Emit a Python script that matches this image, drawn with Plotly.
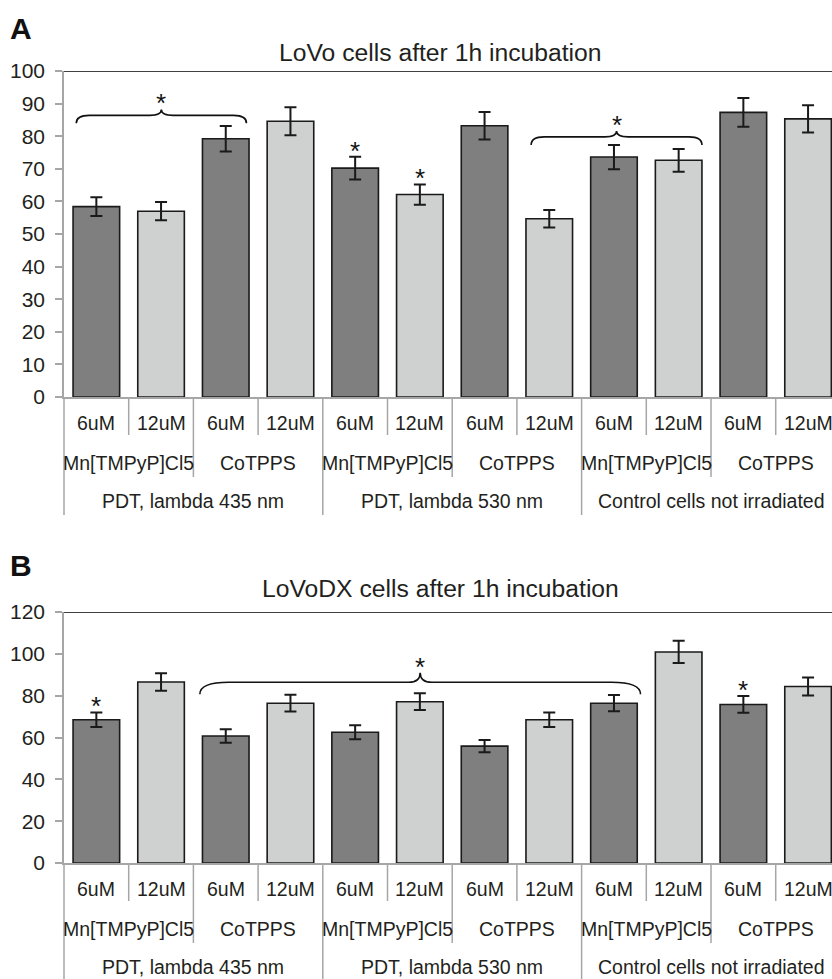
import plotly.graph_objects as go

W, H = 832, 979
FONT = "Liberation Sans, Arial, sans-serif"

# ---------------- data ----------------
positions = list(range(12))
dose_labels = ["6uM", "12uM"] * 6
compound_labels = ["Mn[TMPyP]Cl5", "CoTPPS"] * 3
treatment_labels = ["PDT, lambda 435 nm", "PDT, lambda 530 nm", "Control cells not irradiated"]
bar_colors = ["#7f7f7f", "#cfd1d0"] * 6

lovo_title = "LoVo cells after 1h incubation"
lovo_values = [58.4, 57.0, 79.2, 84.6, 70.2, 62.1, 83.2, 54.7, 73.6, 72.6, 87.3, 85.3]
lovo_errors = [2.9, 2.8, 3.9, 4.3, 3.5, 3.1, 4.2, 2.7, 3.7, 3.5, 4.4, 4.2]
lovo_star_bars = [4, 5]
# brace: x start, x end, end y, flat y, peak y
lovo_braces = [(-0.31, 2.32, 84.0, 86.4, 88.2), (6.72, 9.36, 77.3, 79.8, 81.6)]

lovodx_title = "LoVoDX cells after 1h incubation"
lovodx_values = [68.5, 86.5, 60.7, 76.4, 62.5, 77.1, 55.9, 68.5, 76.4, 100.9, 75.8, 84.4]
lovodx_errors = [3.5, 4.2, 3.2, 4.0, 3.3, 4.0, 2.9, 3.5, 3.9, 5.3, 4.0, 4.3]
lovodx_star_bars = [0, 10]
lovodx_braces = [(1.60, 8.41, 80.7, 86.4, 91.0)]

# ---------------- layout helpers ----------------
def py(p):
    return 1 - p / H

X0 = 64 / W
panels = [
    dict(xa="x", ya="y", top=71, bottom=397, ymax=100, dtick=10, title=lovo_title, title_y=53,
         label="A", label_y=28, values=lovo_values, errors=lovo_errors,
         stars=lovo_star_bars, braces=lovo_braces, curl=0.2),
    dict(xa="x2", ya="y2", top=612, bottom=863, ymax=120, dtick=20, title=lovodx_title, title_y=588,
         label="B", label_y=565, values=lovodx_values, errors=lovodx_errors,
         stars=lovodx_star_bars, braces=lovodx_braces, curl=0.45),
]

fig = go.Figure()
shapes = []
annotations = []
axis_grey = "#a6a6a6"
text_col = "#231f20"

for p in panels:
    fig.add_trace(go.Bar(
        x=positions, y=p["values"], xaxis=p["xa"], yaxis=p["ya"],
        width=0.72,
        marker=dict(color=bar_colors, line=dict(color="#1a1a1a", width=1.6)),
        error_y=dict(type="data", array=p["errors"], visible=True,
                     color="#1a1a1a", thickness=2, width=6),
        showlegend=False, hoverinfo="skip",
    ))
    xr = p["xa"]
    yr = p["ya"]
    # top border
    shapes.append(dict(type="line", xref="paper", yref=yr, x0=X0, x1=1,
                       y0=p["ymax"], y1=p["ymax"], line=dict(color="#404040", width=2)))
    # left line continuation below axis
    yb = p["bottom"]
    shapes.append(dict(type="line", xref="paper", yref="paper", x0=X0, x1=X0,
                       y0=py(yb), y1=py(yb + 118), line=dict(color=axis_grey, width=1.5)))
    # category separators
    for k in range(12):
        b = k + 0.5
        if (k + 1) % 4 == 0:
            length = 118
        elif (k + 1) % 2 == 0:
            length = 80
        else:
            length = 38
        shapes.append(dict(type="line", xref=xr, yref="paper", x0=b, x1=b,
                           y0=py(yb), y1=py(yb + length), line=dict(color=axis_grey, width=1.5)))
    # category labels
    for i, t in enumerate(dose_labels):
        annotations.append(dict(x=positions[i], y=py(yb + 26), xref=xr, yref="paper", text=t,
                                showarrow=False, yanchor="middle",
                                font=dict(family=FONT, size=19.5, color=text_col)))
    for j, t in enumerate(compound_labels):
        annotations.append(dict(x=2 * j + 0.5, y=py(yb + 66), xref=xr, yref="paper", text=t,
                                showarrow=False, yanchor="middle",
                                font=dict(family=FONT, size=19.5, color=text_col)))
    for j, t in enumerate(treatment_labels):
        annotations.append(dict(x=4 * j + 1.5, y=py(yb + 104), xref=xr, yref="paper", text=t,
                                showarrow=False, yanchor="middle",
                                font=dict(family=FONT, size=19.5, color=text_col)))
    # title
    annotations.append(dict(x=440 / W, y=py(p["title_y"]), xref="paper", yref="paper",
                            text=p["title"], showarrow=False, yanchor="middle",
                            font=dict(family=FONT, size=24.7, color=text_col)))
    # panel label
    annotations.append(dict(x=8 / W, y=py(p["label_y"]), xref="paper", yref="paper",
                            text="<b>" + p["label"] + "</b>", showarrow=False,
                            xanchor="left", yanchor="middle",
                            font=dict(family=FONT, size=30, color="#111111")))
    # stars over single bars
    for i in p["stars"]:
        annotations.append(dict(x=positions[i], y=p["values"][i] + p["errors"][i], xref=xr, yref=yr,
                                text="*", showarrow=False, yanchor="bottom", yshift=-11,
                                font=dict(family=FONT, size=26, color="#111111")))
    # braces
    d = p["curl"]
    for (bx0, bx1, yend, yflat, ypeak) in p["braces"]:
        xm = (bx0 + bx1) / 2
        path = (f"M {bx0},{yend} Q {bx0},{yflat} {bx0 + d},{yflat} "
                f"L {xm - 0.18},{yflat} Q {xm},{yflat} {xm},{ypeak} "
                f"Q {xm},{yflat} {xm + 0.18},{yflat} "
                f"L {bx1 - d},{yflat} Q {bx1},{yflat} {bx1},{yend}")
        shapes.append(dict(type="path", xref=xr, yref=yr, path=path,
                           line=dict(color="#111111", width=1.6)))
        annotations.append(dict(x=xm, y=ypeak, xref=xr, yref=yr, text="*", showarrow=False,
                                yanchor="bottom", yshift=-11,
                                font=dict(family=FONT, size=26, color="#111111")))

xrange = [-0.5, 11.37]
common_x = dict(range=xrange, showticklabels=False, ticks="", showgrid=False, zeroline=False,
                showline=True, linecolor=axis_grey, linewidth=1.5, automargin=False, fixedrange=True)

def ycommon(ymax, dtick):
    return dict(range=[0, ymax], dtick=dtick, tick0=0, showgrid=False, zeroline=False,
                showline=True, linecolor=axis_grey, linewidth=1.5, ticks="outside",
                ticklen=7, tickwidth=1.5, tickcolor=axis_grey, automargin=False,
                ticklabelstandoff=6,
                tickfont=dict(family=FONT, size=21, color=text_col))

fig.update_layout(
    width=W, height=H, template="none",
    margin=dict(l=0, r=0, t=0, b=0),
    paper_bgcolor="white", plot_bgcolor="white",
    bargap=0.28,
    xaxis=dict(domain=[X0, 1], anchor="y", **common_x),
    yaxis=dict(domain=[py(397), py(71)], anchor="x", **ycommon(100, 10)),
    xaxis2=dict(domain=[X0, 1], anchor="y2", **common_x),
    yaxis2=dict(domain=[py(863), py(612)], anchor="x2", **ycommon(120, 20)),
    shapes=shapes,
    annotations=annotations,
    showlegend=False,
)

fig.write_html("out.html")
